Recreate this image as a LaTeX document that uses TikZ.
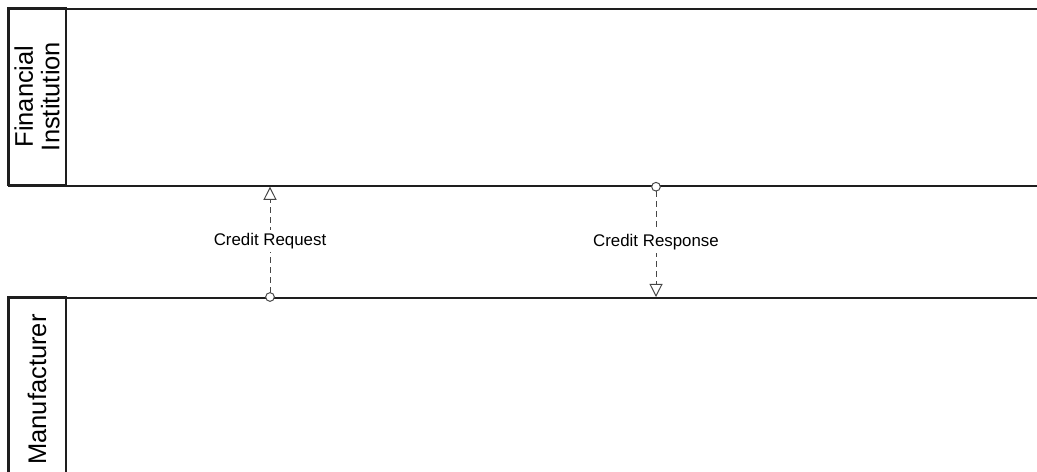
\documentclass[tikz,border=0pt]{standalone}
\usepackage{fontspec}
\setmainfont{Liberation Sans}
\usetikzlibrary{
  arrows.meta,
  positioning,
  calc
}
\definecolor{poolline}{RGB}{30,30,30}
\definecolor{flowgray}{RGB}{70,70,70}
\tikzset{
  poolbox/.style={
    draw=poolline, line width=1pt, fill=white,
    minimum width=22cm, minimum height=3.54cm,
    anchor=north west, inner sep=0pt
  },
  poolhead/.style={
    draw=poolline, line width=0.8pt,
    minimum width=3.54cm, minimum height=1.16cm,
    rotate=90, align=center, inner sep=0pt,
    font=\fontsize{14.5}{15}\selectfont
  },
  msgflow/.style={
    {Circle[open, length=5.5pt, width=5.5pt, fill=white]}-{Triangle[open, length=7.5pt, width=7.5pt, fill=white]},
    draw=flowgray, line width=0.55pt, dash pattern=on 3.4pt off 2.3pt,
    shorten <=-2.75pt
  },
  msglabel/.style={
    font=\fontsize{9.6}{11}\selectfont,
    fill=white, inner sep=2pt
  },
}

\begin{document}
\begin{tikzpicture}[x=0.02cm, y=-0.02cm]

  \useasboundingbox (0,0) rectangle (1037,471);
  \clip (0,0) rectangle (1037,471);

  %% Pools
  \node[poolbox] (fi) at (8,8) {};
  \node[poolbox, minimum height=3.7cm] (mf) at (8,297) {};

  %% Pool headers
  \node[poolhead] (fihead) at (37,96.5) {Financial\\Institution};
  \node[poolhead, minimum width=3.7cm] (mfhead) at (37,389.5) {Manufacturer};

  %% Message labels
  \node[msglabel] (reqlbl) at (270,241) {Credit Request};
  \node[msglabel] (reslbl) at (656,242) {Credit Response};

  %% Message flows
  \draw[msgflow] (mf.north -| reqlbl) -- (fi.south -| reqlbl);
  \draw[msgflow] (fi.south -| reslbl) -- (mf.north -| reslbl);

  %% keep labels over the dashes
  \node[msglabel] at (reqlbl) {Credit Request};
  \node[msglabel] at (reslbl) {Credit Response};

\end{tikzpicture}
\end{document}
